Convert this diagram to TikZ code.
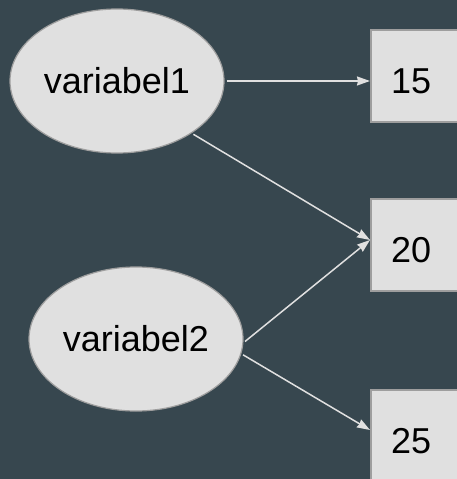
\documentclass[tikz,border=0pt]{standalone}
\usepackage{fontspec}
\setmainfont{Liberation Sans}
\usetikzlibrary{shapes.geometric,arrows.meta}
\definecolor{slate}{HTML}{37474F}
\definecolor{boxgray}{HTML}{E0E0E0}
\definecolor{rimgray}{HTML}{9E9E9E}
\begin{document}
\begin{tikzpicture}[x=1pt,y=-1pt,font=\fontsize{36}{43}\selectfont,
    var/.style={ellipse, draw=rimgray, line width=1.2pt, fill=boxgray, minimum width=214pt, minimum height=144pt, inner sep=0pt},
    val/.style={rectangle, draw=rimgray, line width=2pt, fill=boxgray, anchor=west, minimum height=92pt, inner xsep=20pt, text width=70pt, align=left, text height=34pt, text depth=0pt},
    link/.style={draw=boxgray, line width=1.5pt, -{Stealth[length=13pt,width=9pt,inset=1pt]}, shorten <=2pt}]
  \fill[slate] (0,0) rectangle (457,479);
  \useasboundingbox (0,0) rectangle (457,479);
  \node[var] (v1) at (117,81) {variabel1};
  \node[var] (v2) at (136,339) {variabel2};
  \node[val] (n15) at (370,76) {15};
  \node[val] (n20) at (370,245) {20};
  \node[val] (n25) at (370,436) {25};
  \draw[link] (v1.east) -- (v1.east -| n15.west);
  \draw[link] (v1.-35) -- ([yshift=5pt]n20.west);
  \draw[link] (v2.-2) -- ([yshift=5pt]n20.west);
  \draw[link] (v2.-8) -- ([yshift=6pt]n25.west);
\end{tikzpicture}
\end{document}
